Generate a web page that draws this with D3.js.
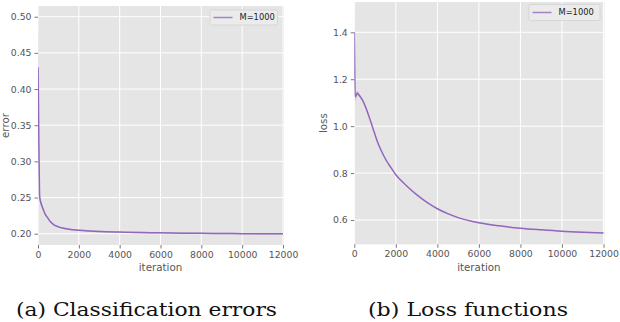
<!DOCTYPE html>
<html><head><meta charset="utf-8">
<script src="https://cdn.jsdelivr.net/npm/d3@7"></script>
<style>
body{margin:0;background:#fff;}
svg{display:block;}
text{font-family:"DejaVu Sans",sans-serif;}
</style></head>
<body>
<svg id="c" width="620" height="322"></svg>
<script>
// ---- data ----
const xTicks = [0, 2000, 4000, 6000, 8000, 10000, 12000];
const errorTicks = [0.20, 0.25, 0.30, 0.35, 0.40, 0.45, 0.50];
const lossTicks = [0.6, 0.8, 1.0, 1.2, 1.4];

const errorIter = [0, 20, 40, 60, 80, 120, 200, 250, 350, 450, 600, 800, 1000, 1250, 1600, 2000, 2500, 3000, 4000, 5000, 6000, 7000, 8000, 9000, 10000, 11000, 12000];
const errorMean = [0.43, 0.39, 0.33, 0.285, 0.252, 0.245, 0.238, 0.234, 0.227, 0.223, 0.217, 0.212, 0.2095, 0.2075, 0.2058, 0.2047, 0.2037, 0.203, 0.2022, 0.2016, 0.2012, 0.2008, 0.2005, 0.2003, 0.2001, 0.2000, 0.1999];
const errorStd  = [0.07, 0.05, 0.03, 0.015, 0.006, 0.004, 0.003, 0.002, 0.0015, 0.0012, 0.001, 0.001, 0.001, 0.001, 0.001, 0.001, 0.001, 0.001, 0.001, 0.0012, 0.0012, 0.0012, 0.001, 0.001, 0.001, 0.001, 0.001];

const lossIter = [0, 20, 40, 80, 150, 250, 400, 550, 750, 900, 1100, 1300, 1500, 1750, 2000, 2500, 3000, 3500, 4000, 4500, 5000, 6000, 7000, 8000, 9000, 10000, 11000, 12000];
const lossMean = [1.40, 1.25, 1.125, 1.13, 1.14, 1.13, 1.11, 1.08, 1.03, 0.99, 0.937, 0.895, 0.86, 0.825, 0.793, 0.747, 0.708, 0.675, 0.648, 0.627, 0.61, 0.588, 0.575, 0.565, 0.558, 0.552, 0.548, 0.545];
const lossStd  = [0.075, 0.05, 0.02, 0.015, 0.01, 0.008, 0.005, 0.004, 0.003, 0.003, 0.002, 0.002, 0.002, 0.002, 0.002, 0.002, 0.002, 0.002, 0.002, 0.002, 0.002, 0.002, 0.002, 0.002, 0.002, 0.002, 0.002, 0.002];

const legendLabel = "M=1000";
const captions = ["(a) Classification errors", "(b) Loss functions"];
const yLabels = ["error", "loss"];
const xLabel = "iteration";

// ---- drawing ----
const svg = d3.select("#c");
const lineColor = "#9467bd";

function panel(cfg) {
  const x = d3.scaleLinear().domain([0, 12000]).range([cfg.x0, cfg.x1]);
  const y = d3.scaleLinear().domain(cfg.ydom).range([cfg.yb, cfg.yt]);
  const g = svg.append("g");
  const id = "clip" + cfg.key;
  svg.append("clipPath").attr("id", id).append("rect")
    .attr("x", cfg.x0).attr("y", cfg.yt).attr("width", cfg.x1 - cfg.x0 + 1).attr("height", cfg.yb - cfg.yt);
  g.append("rect").attr("x", cfg.x0).attr("y", cfg.yt)
    .attr("width", cfg.x1 - cfg.x0 + 1).attr("height", cfg.yb - cfg.yt).attr("fill", "#e5e5e5");
  // grid
  g.selectAll(".gx").data(xTicks).join("line")
    .attr("x1", d => x(d)).attr("x2", d => x(d)).attr("y1", cfg.yt).attr("y2", cfg.yb)
    .attr("stroke", "#fff").attr("stroke-width", 1);
  g.selectAll(".gy").data(cfg.ticks).join("line")
    .attr("x1", cfg.x0).attr("x2", cfg.x1 + 1).attr("y1", d => y(d)).attr("y2", d => y(d))
    .attr("stroke", "#fff").attr("stroke-width", 1);
  // axes
  const ax = g.append("g").attr("transform", `translate(0,${cfg.yb})`)
    .call(d3.axisBottom(x).tickValues(xTicks).tickSize(3.5).tickPadding(2.5).tickFormat(d3.format("d")));
  const ay = g.append("g").attr("transform", `translate(${cfg.x0},0)`)
    .call(d3.axisLeft(y).tickValues(cfg.ticks).tickSize(3.5).tickPadding(3).tickFormat(cfg.fmt));
  [ax, ay].forEach(a => {
    a.select(".domain").remove();
    a.selectAll("line").attr("stroke", "#555").attr("stroke-width", 0.8);
    a.selectAll("text").attr("fill", "#555").style("font-size", "9.3px").style("font-family", "DejaVu Sans");
  });
  // band + line
  const data = cfg.iter.map((d, i) => ({ x: d, m: cfg.mean[i], s: cfg.std[i] }));
  const cg = g.append("g").attr("clip-path", `url(#${id})`);
  cg.append("path").datum(data)
    .attr("d", d3.area().curve(d3.curveMonotoneX).x(d => x(d.x)).y0(d => y(d.m - d.s)).y1(d => y(d.m + d.s)))
    .attr("fill", lineColor).attr("fill-opacity", 0.3);
  cg.append("path").datum(data)
    .attr("d", d3.line().curve(d3.curveMonotoneX).x(d => x(d.x)).y(d => y(d.m)))
    .attr("fill", "none").attr("stroke", lineColor).attr("stroke-width", 1.5);
  // labels
  g.append("text").attr("x", (cfg.x0 + cfg.x1) / 2).attr("y", 270.5)
    .attr("text-anchor", "middle").attr("fill", "#555").style("font-size", "10.3px").text(xLabel);
  g.append("text").attr("transform", `translate(${cfg.ylx},${(cfg.yt + cfg.yb) / 2}) rotate(-90)`)
    .attr("text-anchor", "middle").attr("fill", "#555").style("font-size", "10.3px").text(cfg.ylabel);
  // legend
  const L = cfg.leg;
  g.append("rect").attr("x", L.x).attr("y", L.y).attr("width", L.w).attr("height", L.h)
    .attr("rx", 1.5).attr("fill", "#ebebeb").attr("stroke", "#d2d2d2").attr("stroke-width", 0.8);
  g.append("line").attr("x1", L.x + 3.5).attr("x2", L.x + 22.5).attr("y1", L.y + L.h / 2).attr("y2", L.y + L.h / 2)
    .attr("stroke", lineColor).attr("stroke-width", 1.5).attr("stroke-opacity", 0.8);
  g.append("text").attr("x", L.x + 29.5).attr("y", L.y + L.h / 2).attr("dy", "0.35em")
    .attr("fill", "#222").style("font-size", "8.3px").text(legendLabel);
  // caption
  svg.append("text").attr("x", cfg.capX).attr("y", 316)
    .attr("textLength", cfg.capW).attr("lengthAdjust", "spacingAndGlyphs")
    .style("font-family", "'DejaVu Serif', serif").style("font-size", "19px").attr("fill", "#111")
    .text(cfg.caption);
}

panel({ key: "a", x0: 38, x1: 283, yt: 6, yb: 245, ydom: [0.1844, 0.5148], ticks: errorTicks,
  fmt: d3.format(".2f"), iter: errorIter, mean: errorMean, std: errorStd, ylabel: yLabels[0], ylx: 9,
  leg: { x: 210, y: 10, w: 67.5, h: 15 }, caption: captions[0], capX: 16, capW: 261 });
panel({ key: "b", x0: 354.3, x1: 603.5, yt: 2, yb: 244.3, ydom: [0.4964, 1.5292], ticks: lossTicks,
  fmt: d3.format(".1f"), iter: lossIter, mean: lossMean, std: lossStd, ylabel: yLabels[1], ylx: 327,
  leg: { x: 529, y: 4.5, w: 71, h: 16 }, caption: captions[1], capX: 368, capW: 200 });
</script>
</body></html>
